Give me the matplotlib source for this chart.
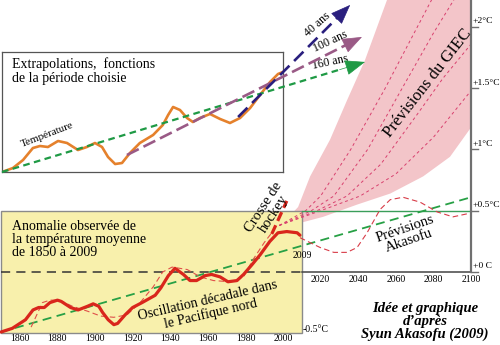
import numpy as np
import matplotlib.pyplot as plt
from matplotlib.patches import Rectangle

plt.rcParams['font.family'] = ['Liberation Serif', 'DejaVu Serif']

obs_years = [1850, 1856, 1863, 1867, 1870, 1873, 1876, 1880, 1882, 1887, 1891, 1896,
             1899, 1902, 1904, 1907, 1910, 1912, 1916, 1920, 1925, 1932, 1935, 1939,
             1942.5, 1947, 1950.5, 1954, 1958.5, 1962, 1966.5, 1970.7, 1975.5, 1979,
             1983.5, 1987.8, 1993, 1997.3, 2002, 2007.5, 2009]
obs_temp = [-0.49, -0.46, -0.39, -0.31, -0.29, -0.29, -0.25, -0.23, -0.24, -0.29, -0.31, -0.28,
            -0.26, -0.28, -0.33, -0.39, -0.43, -0.42, -0.35, -0.29, -0.25, -0.19, -0.13, -0.03,
            0.03, -0.02, -0.07, -0.07, -0.03, -0.02, -0.04, -0.08, -0.07, -0.02,
            0.06, 0.14, 0.25, 0.32, 0.33, 0.32, 0.30]

# decadal oscillation (thin dashed) 1866-1995
pdo_years = [1866, 1872, 1876, 1881, 1888, 1896, 1903, 1910, 1917, 1924, 1931, 1936,
             1941, 1949, 1956, 1963, 1972, 1979, 1984, 1990, 1995]
pdo_temp = [-0.45, -0.25, -0.23, -0.23, -0.28, -0.32, -0.36, -0.37, -0.35, -0.25, -0.12, 0.0,
            0.04, 0.02, -0.04, -0.07, -0.08, -0.04, 0.10, 0.24, 0.34]

# linear trend
trend_years = [1850, 2100]
trend_temp = [-0.49, 0.61]

# Akasofu forecast
aka_years = [2009, 2019.7, 2027, 2034, 2039.4, 2044.7, 2051.6, 2057, 2063.8, 2072.9, 2082, 2090.4, 2099.5]
aka_temp = [0.28, 0.20, 0.16, 0.16, 0.20, 0.32, 0.51, 0.59, 0.61, 0.57, 0.49, 0.45, 0.48]

# hockey stick
hockey_years = [1994, 2002]
hockey_temp = [0.31, 0.58]

# IPCC envelope
ipcc_up_years = [2000, 2008, 2014.4, 2025, 2034, 2043.6, 2055.3, 2058, 2100]
ipcc_up_temp = [0.40, 0.53, 0.78, 1.08, 1.40, 1.73, 2.22, 2.40, 2.40]
ipcc_lo_years = [2000, 2009, 2021.3, 2039.4, 2057, 2074.5, 2088.8, 2100]
ipcc_lo_temp = [0.40, 0.40, 0.45, 0.55, 0.64, 0.78, 0.94, 1.18]

ipcc_runs = [
    ([1998, 2012, 2020, 2036, 2054, 2068, 2080], [0.38, 0.50, 0.62, 1.00, 1.49, 1.90, 2.25]),
    ([1998, 2015, 2027, 2045, 2063, 2080, 2092], [0.38, 0.50, 0.62, 1.00, 1.49, 1.95, 2.25]),
    ([1998, 2018, 2034, 2052, 2072, 2085, 2100], [0.38, 0.50, 0.62, 0.88, 1.30, 1.58, 1.86]),
    ([1998, 2020, 2041, 2060, 2080, 2100], [0.38, 0.50, 0.62, 0.80, 1.10, 1.48]),
]

# inset: temperature and extrapolations
ins_years = [1850, 1856.2, 1861.9, 1867.5, 1871.5, 1876, 1881.7, 1886.8, 1893, 1898, 1902.6,
             1906.6, 1910, 1914, 1917.9, 1922.4, 1928, 1935.5, 1941, 1944, 1946.8, 1950.7,
             1954.7, 1958, 1962, 1967.7, 1973.4, 1979, 1984.7, 1990.4, 1996, 2001.7, 2006.2, 2009]
ins_temp = [-0.50, -0.46, -0.38, -0.26, -0.24, -0.25, -0.19, -0.21, -0.28, -0.25, -0.21,
            -0.25, -0.35, -0.42, -0.41, -0.31, -0.21, -0.13, -0.03, 0.07, 0.15, 0.12,
            0.04, 0.0, 0.04, 0.08, 0.03, -0.01, 0.04, 0.14, 0.27, 0.40, 0.48, 0.50]
extrap_labels = ['160 ans', '100 ans', '40 ans']
extrap_start = [(1850, -0.50), (1920.7, -0.33), (1983.6, 0.05)]
extrap_tip = [(2055.4, 0.60), (2053.7, 0.85), (2047, 1.17)]
extrap_colors = ['#1f9a45', '#9a5a86', '#2a1f7e']

right_ticks = [2.0, 1.5, 1.0, 0.5, 0.0]
right_labels = ['+2°C', '+1.5°C', '+1°C', '+0.5°C', '+0 C']
past_years = [1860, 1880, 1900, 1920, 1940, 1960, 1980, 2000]
future_years = [2020, 2040, 2060, 2080, 2100]

fig = plt.figure(figsize=(5, 3.45), dpi=100)
ax = fig.add_axes([0, 0, 1, 1])
ax.set_xlim(1849.45, 2115.4)
ax.set_ylim(-0.596, 2.22)
ax.axis('off')

# IPCC fan
ax.fill(ipcc_up_years + ipcc_lo_years[::-1], ipcc_up_temp + ipcc_lo_temp[::-1],
        color='#f3c5c9', lw=0, zorder=0.5)
ax.add_patch(Rectangle((1850, -0.5), 160, 1.0, facecolor='#f8f0ac',
                       edgecolor='#8a8a8a', lw=1, zorder=1))
for yrs, tmp in ipcc_runs:
    ax.plot(yrs, tmp, color='#d8406e', lw=0.7, dashes=(3, 3), zorder=1.5)

# axes lines
ax.plot([1850, 2010], [0, 0], color='#333333', lw=1.1, dashes=(6, 4), zorder=2)
ax.plot([2010, 2100], [0, 0], color='#444444', lw=1.1, zorder=2)
ax.plot([2010, 2100], [0.5, 0.5], color='#3a9e5a', lw=1.0, zorder=2)
ax.plot([2100, 2100], [0, 2.22], color='#707070', lw=1.6, zorder=2)
for t, lab in zip(right_ticks, right_labels):
    ax.plot([2100, 2103.5], [t, t], color='#707070', lw=1, zorder=2)
    ax.text(2100.9, t + 0.045, lab, fontsize=6.8, va='center', ha='left')
ax.text(2010.6, -0.47, '-0.5°C', fontsize=7, va='center', ha='left')
for yr in past_years:
    ax.text(yr, -0.545, str(yr), fontsize=7, ha='center', va='center')
for yr in future_years:
    ax.text(yr, -0.06, str(yr), fontsize=7, ha='center', va='center')
ax.text(2010, 0.135, '2009', fontsize=7, ha='center', va='center')

# curves
ax.plot(trend_years, trend_temp, color='#27a045', lw=1.3, dashes=(5, 3), zorder=3)
ax.plot(pdo_years, pdo_temp, color='#e0504a', lw=0.8, dashes=(5, 3), zorder=3)
ax.plot(aka_years, aka_temp, color='#d83c48', lw=0.8, dashes=(5, 3), zorder=3)
ax.plot(obs_years, obs_temp, color='#d9261c', lw=2.3, solid_capstyle='round', zorder=4)
ax.plot(hockey_years, hockey_temp, color='#d9261c', lw=2.3, dashes=(3, 1.5), zorder=4.5)

# texts
ax.text(1855.9, 0.425, 'Anomalie observée de\nla température moyenne\nde 1850 à 2009',
        fontsize=10, va='top', ha='left', linespacing=1.0, zorder=5)
ax.text(1960.6, -0.29, 'Oscillation décadale dans\nle Pacifique nord', fontsize=10,
        rotation=13, ha='center', va='center', linespacing=0.95, zorder=5)
ax.text(1992.5, 0.50, 'Crosse de\nhockey', fontsize=10.5, rotation=57, ha='center', va='center',
        linespacing=0.95, zorder=5)
ax.text(2077.1, 1.54, 'Prévisions du GIEC', fontsize=12, rotation=52, ha='center', va='center')
ax.text(2066, 0.30, 'Prévisions\nAkasofu', fontsize=10.5, rotation=19, ha='center', va='center',
        linespacing=0.95)
ax.text(2075.5, -0.405, 'Idée et graphique\nd\u2019après\nSyun Akasofu (2009)', fontsize=10.5,
        fontweight='bold', style='italic', ha='center', va='center', linespacing=0.95)

# inset box
ins = fig.add_axes([0.004, 0.5014, 0.562, 0.348])
ins.set_xlim(1850, 2009)
ins.set_ylim(-0.5, 0.7)
ins.set_xticks([])
ins.set_yticks([])
for s in ins.spines.values():
    s.set_color('#555555')
    s.set_linewidth(0.9)
ins.patch.set_alpha(0)

dash_styles = [(3, 2), (5, 2), (5, 2.5)]
lws = [1.6, 1.9, 1.9]
for (x0, y0), (x1, y1), c, d, w in zip(extrap_start, extrap_tip, extrap_colors, dash_styles, lws):
    bx = x0 + 0.93 * (x1 - x0)
    by = y0 + 0.93 * (y1 - y0)
    ins.plot([x0, bx], [y0, by], color=c, lw=w, dashes=d, clip_on=False, zorder=3)
    ins.annotate('', xy=(x1, y1), xytext=(bx, by), annotation_clip=False,
                 arrowprops=dict(arrowstyle='-|>,head_length=1.3,head_width=0.5',
                                 mutation_scale=10, color=c, lw=0.5,
                                 shrinkA=0, shrinkB=0))
ins.plot(ins_years, ins_temp, color='#e5812c', lw=1.9, zorder=2)

ax.text(2025, 1.71, '160 ans', fontsize=8.5, rotation=12, ha='center', va='center')
ax.text(2025, 1.88, '100 ans', fontsize=8.5, rotation=25, ha='center', va='center')
ax.text(2018.1, 2.02, '40 ans', fontsize=8.5, rotation=42, ha='center', va='center')
ax.text(1855.9, 1.75, 'Extrapolations,  fonctions\nde la période choisie', fontsize=10,
        va='top', ha='left', linespacing=1.05)
ax.text(1874.5, 1.12, 'Température', fontsize=8, rotation=21, ha='center', va='center')

fig.savefig('out.png', dpi=100)
